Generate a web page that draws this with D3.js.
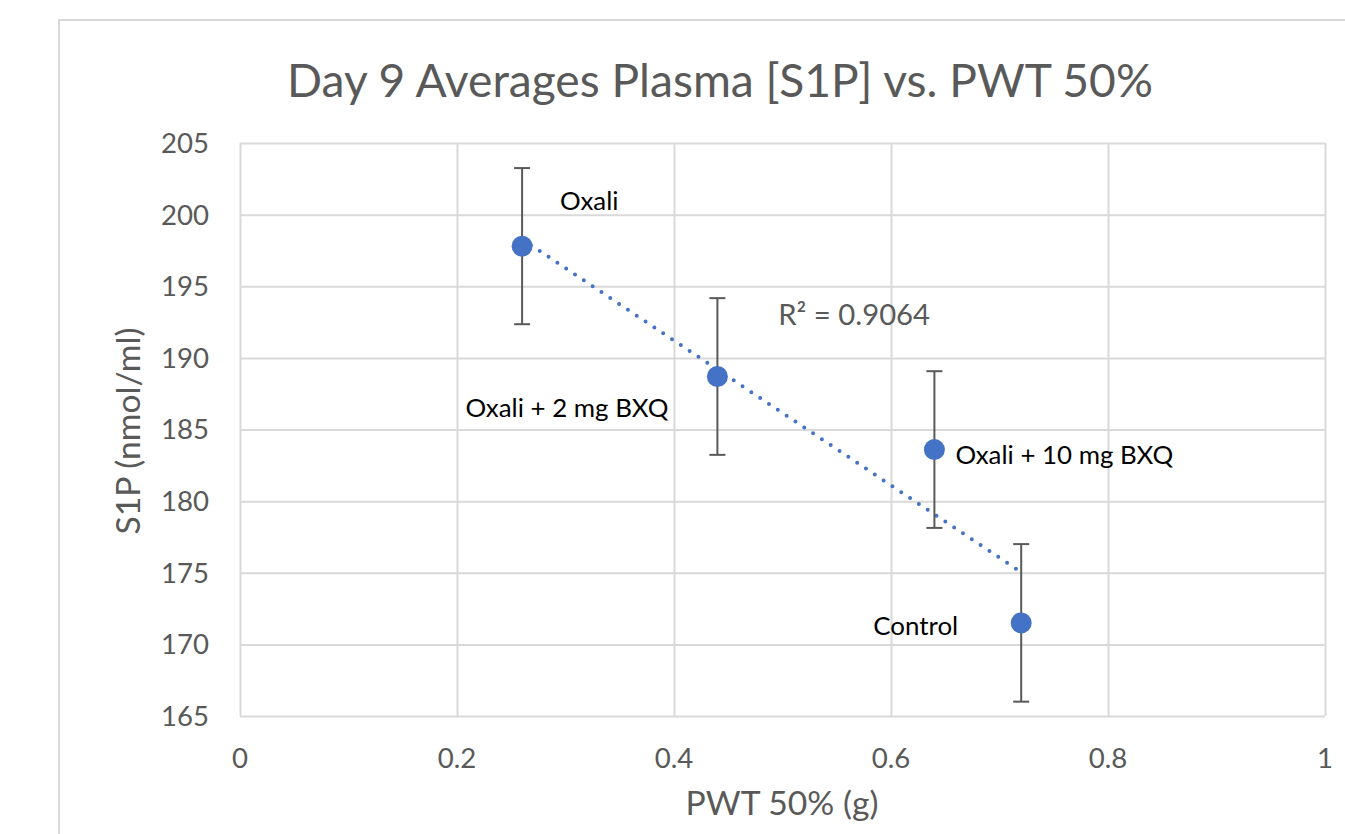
<!DOCTYPE html>
<html>
<head>
<meta charset="utf-8">
<script src="https://cdn.jsdelivr.net/npm/d3@7"></script>
<style>
  html, body { margin: 0; padding: 0; background: #fff; }
  svg { display: block; }
  text { font-family: Lato, "Open Sans", sans-serif; }
</style>
</head>
<body>
<svg id="chart" width="1345" height="834"></svg>
<script>
// ---- data ----
const groups = ["Oxali", "Oxali + 2 mg BXQ", "Oxali + 10 mg BXQ", "Control"];
const pwt = [0.26, 0.44, 0.64, 0.72];
const s1p = [197.8, 188.7, 183.6, 171.5];
const s1pErr = [5.45, 5.47, 5.47, 5.5];
const xTicks = [0, 0.2, 0.4, 0.6, 0.8, 1];
const yTicks = [165, 170, 175, 180, 185, 190, 195, 200, 205];
const titleText = "Day 9 Averages Plasma [S1P] vs. PWT 50%";
const xTitle = "PWT 50% (g)";
const yTitle = "S1P (nmol/ml)";
const r2Text = "R² = 0.9064";

// ---- layout / style ----
const plot = { left: 240, right: 1325, top: 143, bottom: 716 };
const labelOffsets = [
  { dx: 38, dy: -36, anchor: "start" },
  { dx: -49, dy: 41, anchor: "end" },
  { dx: 21, dy: 14, anchor: "start" },
  { dx: -63, dy: 12, anchor: "end" }
];
const gridColor = "#d9d9d9";
const textGray = "#595959";
const blue = "#4472C4";

const svg = d3.select("#chart");

// helper: font size so that text has a given width
function fitSize(str, targetWidth, weight) {
  const t = svg.append("text").attr("font-size", 100).attr("font-weight", weight || 400).text(str);
  const w = t.node().getComputedTextLength();
  t.remove();
  return 100 * targetWidth / w;
}

const x = d3.scaleLinear().domain([0, 1]).range([plot.left, plot.right]);
const y = d3.scaleLinear().domain([165, 205]).range([plot.bottom, plot.top]);

// outer chart frame
svg.append("rect")
  .attr("x", 59).attr("y", 20).attr("width", 1400).attr("height", 900)
  .attr("fill", "#fff").attr("stroke", gridColor).attr("stroke-width", 2);

// gridlines via axes
const gx = svg.append("g")
  .attr("transform", `translate(0,${plot.bottom})`)
  .call(d3.axisBottom(x).tickValues(xTicks).tickSize(-(plot.bottom - plot.top)).tickFormat(""));
const gy = svg.append("g")
  .attr("transform", `translate(${plot.left},0)`)
  .call(d3.axisLeft(y).tickValues(yTicks).tickSize(-(plot.right - plot.left)).tickFormat(""));
[gx, gy].forEach(g => {
  g.select(".domain").remove();
  g.selectAll(".tick line").attr("stroke", gridColor).attr("stroke-width", 2);
});

// tick labels
const tickSize = fitSize("205", 48);
svg.append("g").selectAll("text").data(yTicks).join("text")
  .attr("x", 209).attr("y", d => y(d)).attr("dy", "0.36em")
  .attr("text-anchor", "end").attr("font-size", tickSize).attr("fill", textGray)
  .text(d => d);
svg.append("g").selectAll("text").data(xTicks).join("text")
  .attr("x", d => x(d)).attr("y", 768)
  .attr("text-anchor", "middle").attr("font-size", tickSize).attr("fill", textGray)
  .text(d => d);

// title
svg.append("text")
  .attr("x", 720).attr("y", 97).attr("text-anchor", "middle")
  .attr("font-size", fitSize(titleText, 866)).attr("fill", textGray)
  .text(titleText);

// axis titles
const axisTitleSize = fitSize(yTitle, 207);
svg.append("text")
  .attr("x", 782).attr("y", 815).attr("text-anchor", "middle")
  .attr("font-size", axisTitleSize).attr("fill", textGray)
  .text(xTitle);
svg.append("text")
  .attr("transform", "translate(140,431) rotate(-90)")
  .attr("text-anchor", "middle")
  .attr("font-size", axisTitleSize).attr("fill", textGray)
  .text(yTitle);

// linear trendline (least squares of the data)
const mx = d3.mean(pwt), my = d3.mean(s1p);
const sxy = d3.sum(pwt, (v, i) => (v - mx) * (s1p[i] - my));
const sxx = d3.sum(pwt, v => (v - mx) * (v - mx));
const slope = sxy / sxx, intercept = my - slope * mx;
const xMin = d3.min(pwt), xMax = d3.max(pwt);
svg.append("line")
  .attr("x1", x(xMin)).attr("y1", y(intercept + slope * xMin))
  .attr("x2", x(xMax)).attr("y2", y(intercept + slope * xMax))
  .attr("stroke", blue).attr("stroke-width", 4)
  .attr("stroke-linecap", "round").attr("stroke-dasharray", "0 10.6");

// error bars
const pts = groups.map((g, i) => ({ g, x: pwt[i], y: s1p[i], e: s1pErr[i], off: labelOffsets[i] }));
const eb = svg.append("g").attr("stroke", textGray).attr("stroke-width", 2);
eb.selectAll("line.v").data(pts).join("line").attr("class", "v")
  .attr("x1", d => x(d.x)).attr("x2", d => x(d.x))
  .attr("y1", d => y(d.y + d.e)).attr("y2", d => y(d.y - d.e));
eb.selectAll("line.t").data(pts).join("line").attr("class", "t")
  .attr("x1", d => x(d.x) - 8).attr("x2", d => x(d.x) + 8)
  .attr("y1", d => y(d.y + d.e)).attr("y2", d => y(d.y + d.e));
eb.selectAll("line.b").data(pts).join("line").attr("class", "b")
  .attr("x1", d => x(d.x) - 8).attr("x2", d => x(d.x) + 8)
  .attr("y1", d => y(d.y - d.e)).attr("y2", d => y(d.y - d.e));

// points
svg.append("g").selectAll("circle").data(pts).join("circle")
  .attr("cx", d => x(d.x)).attr("cy", d => y(d.y)).attr("r", 10.5)
  .attr("fill", blue);

// data labels
const labelSize = fitSize("Oxali + 10 mg BXQ", 218);
svg.append("g").selectAll("text").data(pts).join("text")
  .attr("x", d => x(d.x) + d.off.dx).attr("y", d => y(d.y) + d.off.dy)
  .attr("text-anchor", d => d.off.anchor)
  .attr("font-size", labelSize).attr("fill", "#000")
  .text(d => d.g);

// R² label
svg.append("text")
  .attr("x", x(0.496)).attr("y", 325)
  .attr("font-size", fitSize(r2Text, 152)).attr("fill", textGray)
  .text(r2Text);
</script>
</body>
</html>
